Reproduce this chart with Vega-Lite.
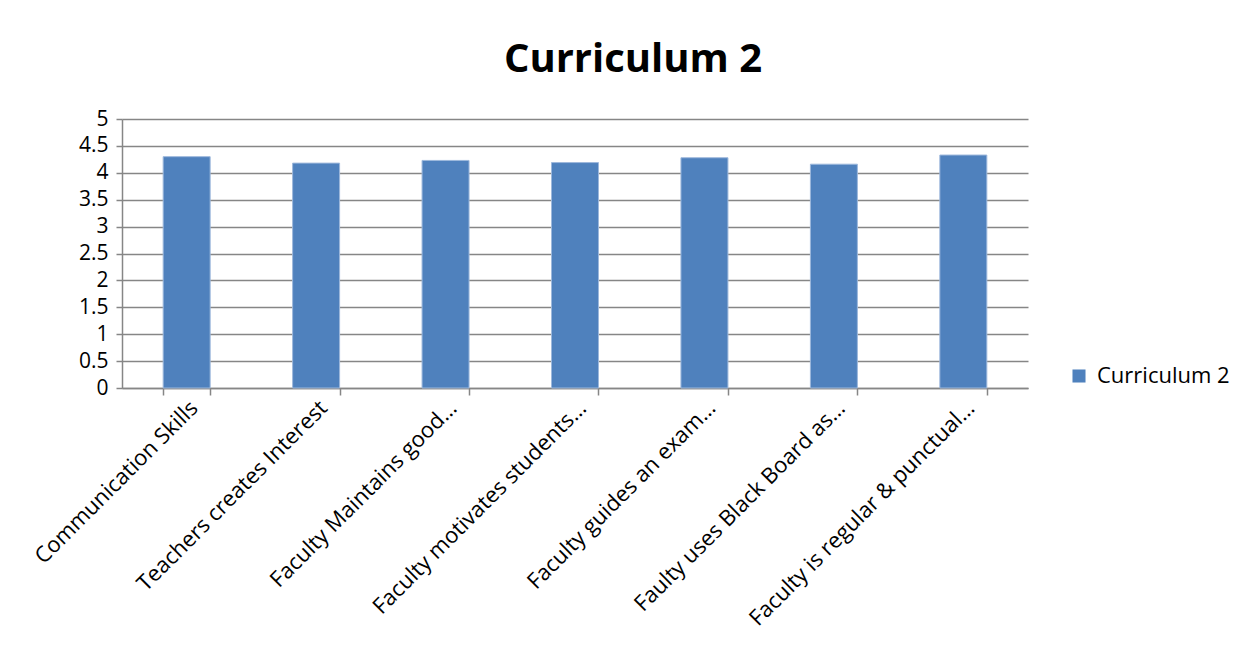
{
  "$schema": "https://vega.github.io/schema/vega-lite/v6.json",
  "autosize": {"type": "none"},
  "width": 906,
  "height": 269,
  "padding": {"left": 122, "top": 119, "right": 232, "bottom": 268},
  "background": "white",
  "title": {
    "text": "Curriculum 2",
    "fontSize": 40,
    "font": "Open Sans",
    "fontWeight": "bold",
    "color": "#000000",
    "anchor": "middle",
    "dx": 58,
    "offset": 28
  },
  "data": {
    "values": [
      {"item": "Communication Skills", "score": 4.30, "series": "Curriculum 2"},
      {"item": "Teachers creates Interest", "score": 4.18, "series": "Curriculum 2"},
      {"item": "Faculty Maintains good…", "score": 4.23, "series": "Curriculum 2"},
      {"item": "Faculty motivates students…", "score": 4.19, "series": "Curriculum 2"},
      {"item": "Faculty guides an exam…", "score": 4.28, "series": "Curriculum 2"},
      {"item": "Faulty uses Black Board as…", "score": 4.16, "series": "Curriculum 2"},
      {"item": "Faculty is regular & punctual…", "score": 4.33, "series": "Curriculum 2"}
    ]
  },
  "mark": {"type": "bar", "stroke": "#9db8dc", "strokeWidth": 1},
  "encoding": {
    "x": {
      "field": "item",
      "type": "nominal",
      "sort": null,
      "scale": {"paddingInner": 0.637, "paddingOuter": 0.318},
      "axis": {
        "title": null,
        "labelAngle": -45,
        "labelFontSize": 22,
        "labelFont": "Open Sans",
        "labelColor": "#000000",
        "labelLimit": 400,
        "labelPadding": 2,
        "tickBand": "extent",
        "tickSize": 7,
        "tickColor": "#868686",
        "tickWidth": 1.5,
        "domainColor": "#868686",
        "domainWidth": 1.5,
        "grid": false
      }
    },
    "y": {
      "field": "score",
      "type": "quantitative",
      "scale": {"domain": [0, 5], "nice": false},
      "axis": {
        "title": null,
        "values": [0, 0.5, 1, 1.5, 2, 2.5, 3, 3.5, 4, 4.5, 5],
        "format": "~g",
        "labelFontSize": 21,
        "labelFont": "Open Sans",
        "labelColor": "#000000",
        "labelPadding": 8,
        "tickSize": 6,
        "tickColor": "#868686",
        "tickWidth": 1.5,
        "domainColor": "#868686",
        "domainWidth": 1.5,
        "grid": true,
        "gridColor": "#868686",
        "gridWidth": 1.5
      }
    },
    "color": {
      "field": "series",
      "type": "nominal",
      "scale": {"range": ["#4F81BD"]},
      "legend": {
        "title": null,
        "orient": "none",
        "legendX": 946,
        "legendY": 246,
        "symbolType": "square",
        "symbolSize": 170,
        "symbolStrokeWidth": 0,
        "labelFontSize": 22,
        "labelFont": "Open Sans",
        "labelColor": "#000000",
        "labelOffset": 7
      }
    }
  },
  "config": {"view": {"stroke": null}}
}
